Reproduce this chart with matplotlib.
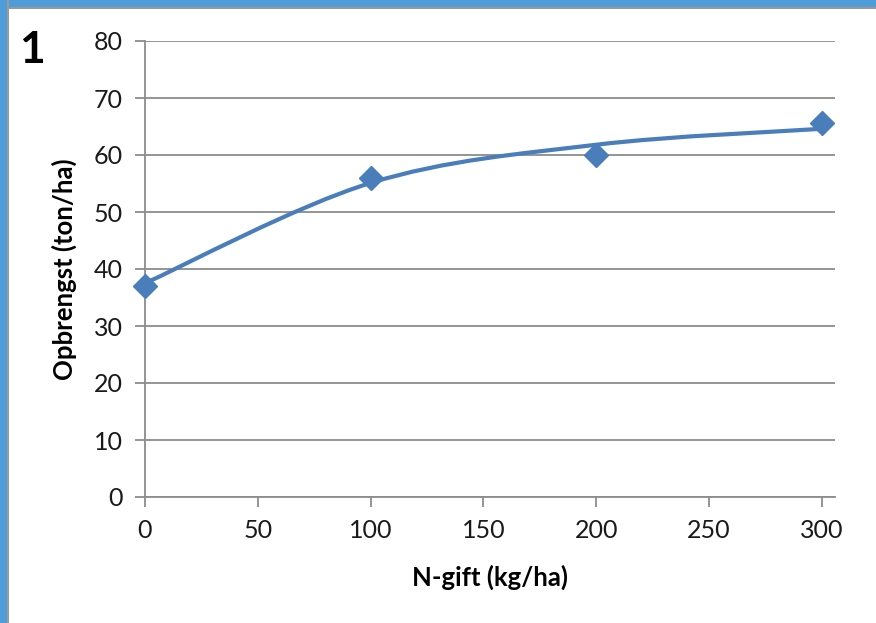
import numpy as np
import matplotlib.pyplot as plt
from matplotlib.path import Path
from matplotlib.patches import PathPatch, Rectangle

# measured yields
n_gift = [0, 100, 200, 300]
opbrengst = [37.1, 56.0, 60.0, 65.6]

# fitted response curve (read at the same N levels, drawn smoothed)
curve_x = [0, 100, 200, 300]
curve_y = [37.5, 55.1, 61.8, 64.6]

x_ticks = [0, 50, 100, 150, 200, 250, 300]
y_ticks = [0, 10, 20, 30, 40, 50, 60, 70, 80]

blue = '#4A7EBB'
grid_grey = '#8C8C8C'

plt.rcParams['font.family'] = ['Lato', 'DejaVu Sans']

fig = plt.figure(figsize=(8.76, 6.23), dpi=100)
ax = fig.add_axes([145/876, 1-497/623, 690/876, 456/623])

# smoothed line through the curve values (Catmull-Rom style bezier, like Excel)
pts = np.column_stack([curve_x, curve_y]).astype(float)
verts = [pts[0]]
codes = [Path.MOVETO]
for i in range(len(pts)-1):
    p0 = pts[i-1] if i > 0 else pts[i]
    p1, p2 = pts[i], pts[i+1]
    p3 = pts[i+2] if i+2 < len(pts) else pts[i+1]
    verts += [p1 + (p2-p0)/6, p2 - (p3-p1)/6, p2]
    codes += [Path.CURVE4]*3
ax.add_patch(PathPatch(Path(verts, codes), facecolor='none', edgecolor=blue,
                       lw=3, capstyle='round', zorder=3))

ax.plot(n_gift, opbrengst, linestyle='none', marker='D', markersize=12.5,
        color=blue, markeredgecolor=blue, zorder=4, clip_on=False)

ax.set_xlim(0, 305.8)
ax.set_ylim(0, 80)
ax.set_xticks(x_ticks)
ax.set_yticks(y_ticks)
ax.grid(axis='y', color=grid_grey, lw=1.3)
ax.set_axisbelow(True)
for s in ['top', 'right']:
    ax.spines[s].set_visible(False)
for s in ['left', 'bottom']:
    ax.spines[s].set_color(grid_grey)
    ax.spines[s].set_linewidth(1.3)
ax.tick_params(axis='both', colors=grid_grey, length=7, width=1.3,
               labelcolor='#1a1a1a', labelsize=18)
ax.tick_params(axis='y', pad=9)
ax.tick_params(axis='x', pad=9)

ax.set_xlabel('N-gift (kg/ha)', fontsize=18.5, fontweight='bold', labelpad=16)
ax.set_ylabel('Opbrengst (ton/ha)', fontsize=18.5, fontweight='bold', labelpad=12)

fig.text(32/876, 1-50/623, '1', fontsize=32, fontweight='bold',
         ha='center', va='center')

# window frame
fig.patches.append(Rectangle((0, 1-9/623), 1, 9/623, transform=fig.transFigure,
                             facecolor='#9A9A9A', edgecolor='none'))
fig.patches.append(Rectangle((0, 1-7/623), 1, 7/623, transform=fig.transFigure,
                             facecolor='#4E9DD9', edgecolor='none'))
fig.patches.append(Rectangle((0, 0), 9/876, 1, transform=fig.transFigure,
                             facecolor='#9A9A9A', edgecolor='none'))
fig.patches.append(Rectangle((0, 0), 7/876, 1, transform=fig.transFigure,
                             facecolor='#4E9DD9', edgecolor='none'))

fig.savefig('out.png', dpi=100)
